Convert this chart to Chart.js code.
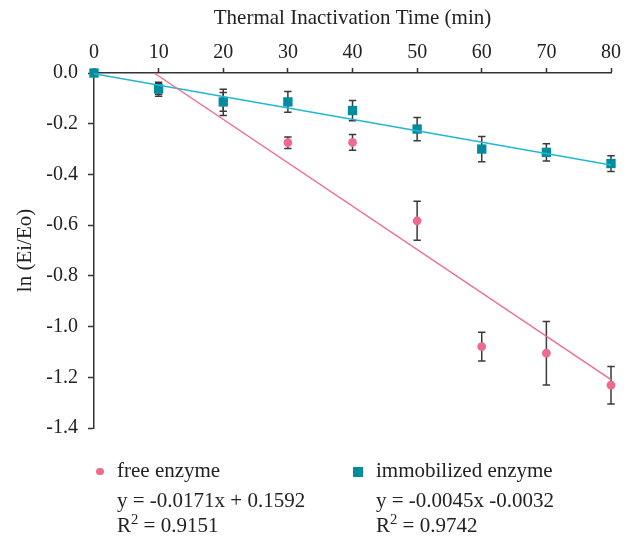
<!DOCTYPE html>
<html>
<head>
<meta charset="utf-8">
<script src="https://cdn.jsdelivr.net/npm/chart.js@4"></script>
<style>
  html, body { margin: 0; padding: 0; background: #fff; }
  #wrap { position: relative; width: 633px; height: 536px; font-family: "Liberation Serif", serif; color: #222; }
  #chart { position: absolute; left: 0; top: 0; }
  .lg { position: absolute; font-size: 21px; line-height: 24px; white-space: nowrap; }
  .lg sup { font-size: 0.7em; line-height: 0; vertical-align: 0.55em; }
  .dot { position: absolute; width: 7.4px; height: 7.4px; border-radius: 50%; background: #ef6b8e; }
  .sq  { position: absolute; width: 9.4px; height: 9.4px; background: #008c9c; }
</style>
</head>
<body>
<div id="wrap">
  <canvas id="chart" width="633" height="536"></canvas>
  <div class="dot" style="left:96.3px; top:468px;"></div>
  <div class="lg" style="left:117px; top:457.5px;">free enzyme</div>
  <div class="lg" style="left:117px; top:488px;">y = -0.0171x + 0.1592</div>
  <div class="lg" style="left:117px; top:512.5px;">R<sup>2</sup> = 0.9151</div>
  <div class="sq" style="left:353.3px; top:467.3px;"></div>
  <div class="lg" style="left:376px; top:457.5px;">immobilized enzyme</div>
  <div class="lg" style="left:376px; top:488px;">y = -0.0045x -0.0032</div>
  <div class="lg" style="left:376px; top:512.5px;">R<sup>2</sup> = 0.9742</div>
</div>
<script>
// ── Data ──────────────────────────────────────
const times    = [0, 10, 20, 30, 40, 50, 60, 70, 80];
const freeMean = [0, -0.064, -0.116, -0.275, -0.274, -0.583, -1.079, -1.105, -1.231];
const freeErr  = [0, 0.028, 0.052, 0.023, 0.031, 0.077, 0.057, 0.125, 0.074];
const immMean  = [0, -0.063, -0.114, -0.114, -0.148, -0.221, -0.300, -0.313, -0.357];
const immErr   = [0, 0.021, 0.037, 0.041, 0.040, 0.046, 0.050, 0.034, 0.031];

// trend line end points (as drawn)
const freeTrend = [[9.3, 0], [80, -1.209]];
const immTrend  = [[0, -0.003], [80, -0.363]];

const xTicks = [0, 10, 20, 30, 40, 50, 60, 70, 80];
const yTicks = [0, -0.2, -0.4, -0.6, -0.8, -1.0, -1.2, -1.4];

const PINK = '#ef6b8e';
const TEAL = '#008c9c';
const CYAN = '#22b7d3';
const AXIS = '#333';
const FONT = 'Liberation Serif';

const toPts = (xs, ys) => xs.map((x, i) => ({ x, y: ys[i] }));

// ── Error bars, drawn under the markers ──────
const errorBars = {
  id: 'errorBars',
  beforeDatasetsDraw(chart) {
    const { ctx, scales: { x, y } } = chart;
    const sets = [[freeMean, freeErr], [immMean, immErr]];
    ctx.save();
    ctx.strokeStyle = '#3a3a3a';
    ctx.lineWidth = 1.5;
    sets.forEach(([m, e]) => {
      times.forEach((t, i) => {
        if (!e[i]) return;
        const px = x.getPixelForValue(t);
        const top = y.getPixelForValue(m[i] + e[i]);
        const bot = y.getPixelForValue(m[i] - e[i]);
        ctx.beginPath();
        ctx.moveTo(px, top); ctx.lineTo(px, bot);
        ctx.moveTo(px - 3.7, top); ctx.lineTo(px + 3.7, top);
        ctx.moveTo(px - 3.7, bot); ctx.lineTo(px + 3.7, bot);
        ctx.stroke();
      });
    });
    ctx.restore();
  }
};

new Chart(document.getElementById('chart'), {
  type: 'scatter',
  data: {
    datasets: [
      {
        type: 'line', label: 'free trend',
        data: freeTrend.map(([x, y]) => ({ x, y })),
        borderColor: PINK, borderWidth: 1.4, pointRadius: 0, clip: false
      },
      {
        type: 'line', label: 'immobilized trend',
        data: immTrend.map(([x, y]) => ({ x, y })),
        borderColor: CYAN, borderWidth: 1.6, pointRadius: 0, clip: false
      },
      {
        label: 'immobilized enzyme',
        data: toPts(times, immMean),
        pointStyle: 'rect', pointRadius: 6.6,
        backgroundColor: TEAL, borderColor: TEAL, borderWidth: 0, clip: false
      },
      {
        label: 'free enzyme',
        data: toPts(times, freeMean),
        pointStyle: 'circle', pointRadius: 4.4,
        backgroundColor: PINK, borderColor: PINK, borderWidth: 0, clip: false
      }
    ]
  },
  plugins: [errorBars],
  options: {
    responsive: false,
    animation: false,
    events: [],
    layout: { padding: { left: 0, top: 0, right: 22, bottom: 108 } },
    plugins: { legend: { display: false }, tooltip: { enabled: false } },
    scales: {
      x: {
        type: 'linear', position: 'top', min: 0, max: 80,
        afterFit: s => { s.height = 73; },
        afterBuildTicks: s => { s.ticks = xTicks.map(v => ({ value: v })); },
        border: { color: AXIS, width: 1.5 },
        grid: { drawOnChartArea: false, drawTicks: true, tickLength: 5, tickColor: AXIS, tickWidth: 1.5 },
        ticks: { color: '#222', padding: 3, font: { family: FONT, size: 20 }, callback: v => String(v) },
        title: {
          display: true, text: 'Thermal Inactivation Time (min)', color: '#222',
          font: { family: FONT, size: 21 }, padding: { top: 6, bottom: 0 }
        }
      },
      y: {
        type: 'linear', min: -1.4, max: 0,
        afterFit: s => { s.width = 94; },
        afterBuildTicks: s => { s.ticks = yTicks.map(v => ({ value: v })); },
        border: { color: AXIS, width: 1.5 },
        grid: { drawOnChartArea: false, drawTicks: true, tickLength: 6, tickColor: AXIS, tickWidth: 1.5 },
        ticks: { color: '#222', padding: 10, font: { family: FONT, size: 20 }, callback: v => Math.abs(v) < 1e-9 ? '0.0' : v.toFixed(1) },
        title: {
          display: true, text: 'ln (Ei/Eo)', color: '#222',
          font: { family: FONT, size: 21 }, padding: { top: 13, bottom: 0 }
        }
      }
    }
  }
});
</script>
</body>
</html>
